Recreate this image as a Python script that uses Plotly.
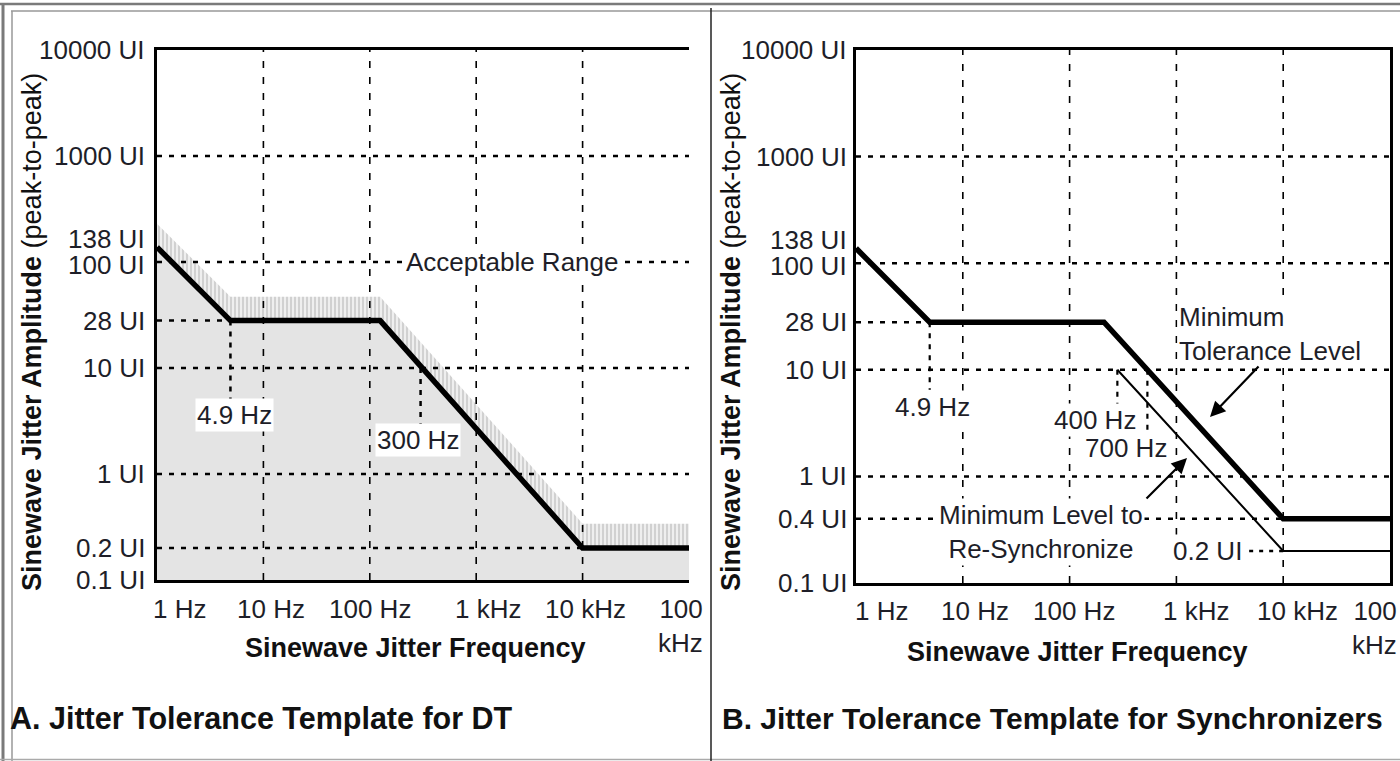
import math
import plotly.graph_objects as go

# ---------------- data ----------------
freq_ticks = [1, 10, 100, 1000, 10000, 100000]
freq_labels = ["1 Hz", "10 Hz", "100 Hz", "1 kHz", "10 kHz", "100<br>kHz"]

A_amp_ticks = [10000, 1000, 138, 100, 28, 10, 1, 0.2, 0.1]
A_amp_labels = ["10000 UI", "1000 UI", "138 UI", "100 UI", "28 UI", "10 UI", "1 UI", "0.2 UI", "0.1 UI"]
B_amp_ticks = [10000, 1000, 138, 100, 28, 10, 1, 0.4, 0.1]
B_amp_labels = ["10000 UI", "1000 UI", "138 UI", "100 UI", "28 UI", "10 UI", "1 UI", "0.4 UI", "0.1 UI"]

grid_freq = [10, 100, 1000, 10000]
A_grid_amp = [1000, 100, 10, 1, 0.2]
B_grid_amp = [1000, 100, 10, 1]

# Panel A: DT template
A_freq = [1, 4.9, 125, 10000, 100000]
A_amp = [138, 28, 28, 0.2, 0.2]
A_band_amp = [230, 47, 47, 0.34, 0.34]   # top of hatched "acceptable" band

# Panel B: synchronizers
B_tol_freq = [1, 4.9, 210, 10000, 100000]
B_tol_amp = [138, 28, 28, 0.4, 0.4]
B_sync_freq = [280, 10000, 100000]
B_sync_amp = [10, 0.2, 0.2]

# corner markers (frequency, amplitude from, amplitude to)
A_markers = [(4.9, 28, 5.0), (300, 10, 2.9)]
B_markers = [(4.9, 28, 6.5), (280, 10, 2.9), (535, 10, 1.45)]

# --------------- layout constants ---------------
W, H = 1400, 761
A_px = (157, 689, 50, 580)
B_px = (856, 1390, 50, 583)
TXT = "#1e1e28"
FONT = "Liberation Sans, Arial, sans-serif"
FMIN, FMAX = 1, 100000
AMIN = 0.1
L = math.log10

fig = go.Figure()


def seg_trace(xs, ys, xa, ya, width, dash, color="black"):
    return go.Scatter(x=xs, y=ys, mode="lines", xaxis=xa, yaxis=ya,
                      line=dict(color=color, width=width, dash=dash),
                      hoverinfo="skip", showlegend=False)


def hgrid(vals, x0, x1):
    xs, ys = [], []
    for v in vals:
        xs += [x0, x1, None]
        ys += [v, v, None]
    return xs, ys


def vgrid(vals, y0, y1):
    xs, ys = [], []
    for v in vals:
        xs += [v, v, None]
        ys += [y0, y1, None]
    return xs, ys


HDASH = "5px,7px"
VDASH = "7px,9px"

# ---------- Panel A ----------
fig.add_trace(go.Scatter(x=A_freq, y=[AMIN] * len(A_freq), mode="lines", line=dict(width=0),
                         xaxis="x", yaxis="y", hoverinfo="skip", showlegend=False))
fig.add_trace(go.Scatter(x=A_freq, y=A_amp, mode="lines", line=dict(width=0), fill="tonexty",
                         fillcolor="#e4e4e4", xaxis="x", yaxis="y", hoverinfo="skip", showlegend=False))
fig.add_trace(go.Scatter(x=A_freq, y=A_band_amp, mode="lines", line=dict(width=0), fill="tonexty",
                         fillpattern=dict(shape="|", bgcolor="#efefef", fgcolor="#b4b4b4", size=4, solidity=0.5),
                         xaxis="x", yaxis="y", hoverinfo="skip", showlegend=False))
xs, ys = hgrid(A_grid_amp, FMIN, FMAX)
fig.add_trace(seg_trace(xs, ys, "x", "y", 2.5, HDASH))
xs, ys = vgrid(grid_freq, AMIN, 10000)
fig.add_trace(seg_trace(xs, ys, "x", "y", 1.6, VDASH))
fig.add_trace(seg_trace([FMIN, A_freq[1]], [A_amp[1], A_amp[1]], "x", "y", 2.5, HDASH))
xs, ys = [], []
for f, a0, a1 in A_markers:
    xs += [f, f, None]
    ys += [a0, a1, None]
fig.add_trace(seg_trace(xs, ys, "x", "y", 2.5, "5px,6px"))
fig.add_trace(go.Scatter(x=A_freq, y=A_amp, mode="lines", line=dict(color="black", width=5.5),
                         xaxis="x", yaxis="y", hoverinfo="skip", showlegend=False))

# ---------- Panel B ----------
xs, ys = hgrid(B_grid_amp, FMIN, FMAX)
fig.add_trace(seg_trace(xs, ys, "x2", "y2", 2.5, HDASH))
xs, ys = vgrid(grid_freq, AMIN, 10000)
fig.add_trace(seg_trace(xs, ys, "x2", "y2", 1.6, VDASH))
fig.add_trace(seg_trace([FMIN, B_tol_freq[1]], [B_tol_amp[1], B_tol_amp[1]], "x2", "y2", 2.5, HDASH))
fig.add_trace(seg_trace([FMIN, B_tol_freq[3]], [B_tol_amp[3], B_tol_amp[3]], "x2", "y2", 2.5, HDASH))
fig.add_trace(seg_trace([4800, B_sync_freq[1]], [B_sync_amp[1], B_sync_amp[1]], "x2", "y2", 2.5, "4px,6px"))
xs, ys = [], []
for f, a0, a1 in B_markers:
    xs += [f, f, None]
    ys += [a0, a1, None]
fig.add_trace(seg_trace(xs, ys, "x2", "y2", 2.2, "5px,6px"))
fig.add_trace(go.Scatter(x=B_sync_freq, y=B_sync_amp, mode="lines", line=dict(color="black", width=2),
                         xaxis="x2", yaxis="y2", hoverinfo="skip", showlegend=False))
fig.add_trace(go.Scatter(x=B_tol_freq, y=B_tol_amp, mode="lines", line=dict(color="black", width=5.5),
                         xaxis="x2", yaxis="y2", hoverinfo="skip", showlegend=False))

# ---------- axes ----------
def dom_x(p):
    return [p[0] / W, p[1] / W]


def dom_y(p):
    return [1 - p[3] / H, 1 - p[2] / H]


common = dict(type="log", showgrid=False, zeroline=False, showline=True, linecolor="black",
              ticks="", showticklabels=False)
fig.update_layout(
    xaxis=dict(common, range=[0, 5], domain=dom_x(A_px), anchor="y", mirror=True, linewidth=3),
    yaxis=dict(common, range=[-1, 4], domain=dom_y(A_px), anchor="x", mirror=False, linewidth=3),
    xaxis2=dict(common, range=[0, 5], domain=dom_x(B_px), anchor="y2", mirror=True, linewidth=3),
    yaxis2=dict(common, range=[-1, 4], domain=dom_y(B_px), anchor="x2", mirror=True, linewidth=3),
)

ann = []
FS = 26

# y tick labels (annotation coordinates on log axes are log10 values)
YSHIFT = {138: 8, 100: -3}


def ytick_ann(ticks, labels, xa, ya, xshift):
    out = []
    for v, t in zip(ticks, labels):
        out.append(dict(text=t, x=0, xref=xa + " domain", y=L(v), yref=ya, xanchor="right", yanchor="middle",
                        xshift=xshift, yshift=YSHIFT.get(v, 0), showarrow=False, borderpad=0,
                        font=dict(size=FS, color=TXT, family=FONT)))
    return out

ann += ytick_ann(A_amp_ticks, A_amp_labels, "x", "y", -11)
ann += ytick_ann(B_amp_ticks, B_amp_labels, "x2", "y2", -8)

# x tick labels
A_xshift = [-6, 8, 0, 12, 3, 16]
B_xshift = [-3, 12, 4, 20, 14, 9]
for i, (v, t) in enumerate(zip(freq_ticks, freq_labels)):
    xa = "left" if i == 0 else ("right" if i == 5 else "center")
    ann.append(dict(text=t, x=L(v), xref="x", y=1 - 592 / H, yref="paper", xanchor=xa, yanchor="top",
                    xshift=A_xshift[i], showarrow=False, align="right",
                    font=dict(size=FS, color=TXT, family=FONT)))
    xb = "left" if i == 0 else ("right" if i == 5 else "center")
    ann.append(dict(text=t, x=L(v), xref="x2", y=1 - 594 / H, yref="paper", xanchor=xb, yanchor="top",
                    xshift=B_xshift[i], showarrow=False, align="right",
                    font=dict(size=FS, color=TXT, family=FONT)))

# axis titles
for cx, cy in [(415, 648), (1077, 652)]:
    ann.append(dict(text="<b>Sinewave Jitter Frequency</b>", x=cx / W, y=1 - cy / H, xref="paper", yref="paper",
                    xanchor="center", yanchor="middle", showarrow=False,
                    font=dict(size=27, color="#111", family=FONT)))
for cx in (32, 731):
    ann.append(dict(text="<b>Sinewave Jitter Amplitude</b> (peak-to-peak)", x=cx / W, y=1 - 332 / H,
                    xref="paper", yref="paper", xanchor="center", yanchor="middle", textangle=-90,
                    showarrow=False, font=dict(size=27, color="#111", family=FONT)))

# panel titles
ann.append(dict(text="<b>A. Jitter Tolerance Template for DT</b>", x=8 / W, y=1 - 718 / H, xref="paper",
                yref="paper", xanchor="left", yanchor="middle", showarrow=False,
                font=dict(size=30.5, color="#111", family=FONT)))
ann.append(dict(text="<b>B. Jitter Tolerance Template for Synchronizers</b>", x=720 / W, y=1 - 718 / H,
                xref="paper", yref="paper", xanchor="left", yanchor="middle", showarrow=False,
                font=dict(size=30, color="#111", family=FONT)))

# in-plot labels
def lab(text, x, y, xa, ya, xanchor="center", align="center", bg="white"):
    return dict(text=text, x=L(x), y=L(y), xref=xa, yref=ya, xanchor=xanchor, yanchor="middle", align=align,
                showarrow=False, bgcolor=bg, borderpad=1, font=dict(size=FS, color=TXT, family=FONT))

ann.append(lab("4.9 Hz", 5.3, 3.6, "x", "y"))
ann.append(lab("300 Hz", 284, 2.1, "x", "y"))
ann.append(lab("Acceptable Range", 2170, 100, "x", "y"))
ann.append(lab("4.9 Hz", 5.15, 4.5, "x2", "y2"))
ann.append(lab("400 Hz", 173, 3.38, "x2", "y2"))
ann.append(lab("700 Hz", 337, 1.85, "x2", "y2"))
ann.append(lab("Minimum<br>Tolerance Level", 1014, 21.7, "x2", "y2", xanchor="left", align="left"))
ann.append(lab("Minimum Level to<br>Re-Synchronize", 54, 0.30, "x2", "y2"))
ann.append(lab("0.2 UI", 1935, 0.2, "x2", "y2"))

# arrows
ann.append(dict(text="", x=L(2063), y=L(3.6), xref="x2", yref="y2", ax=50, ay=-52, showarrow=True,
                arrowhead=2, arrowsize=1.4, arrowwidth=2.2, arrowcolor="black"))
ann.append(dict(text="", x=L(1257), y=L(1.49), xref="x2", yref="y2", ax=-42, ay=42, showarrow=True,
                arrowhead=2, arrowsize=1.4, arrowwidth=2.2, arrowcolor="black"))

# frame lines
shapes = [
    dict(type="line", xref="paper", yref="paper", x0=0, x1=1, y0=1 - 4 / H, y1=1 - 4 / H,
         line=dict(color="#7a7a7a", width=2.5)),
    dict(type="line", xref="paper", yref="paper", x0=11 / W, x1=1, y0=1 - 11 / H, y1=1 - 11 / H,
         line=dict(color="#999999", width=1.5)),
    dict(type="line", xref="paper", yref="paper", x0=3 / W, x1=3 / W, y0=0, y1=1 - 3 / H,
         line=dict(color="#7a7a7a", width=3)),
    dict(type="line", xref="paper", yref="paper", x0=12 / W, x1=12 / W, y0=0, y1=1 - 11 / H,
         line=dict(color="#999999", width=1.5)),
    dict(type="line", xref="paper", yref="paper", x0=0, x1=1, y0=1.5 / H, y1=1.5 / H,
         line=dict(color="#aaaaaa", width=1.5)),
    dict(type="line", xref="paper", yref="paper", x0=711 / W, x1=711 / W, y0=0, y1=1 - 8 / H,
         line=dict(color="#222222", width=1.5)),
]

fig.update_layout(
    width=W, height=H, autosize=False,
    margin=dict(l=0, r=0, t=0, b=0),
    paper_bgcolor="white", plot_bgcolor="white",
    showlegend=False,
    annotations=ann, shapes=shapes,
    font=dict(family=FONT, color=TXT),
)

fig.write_html("out.html")
